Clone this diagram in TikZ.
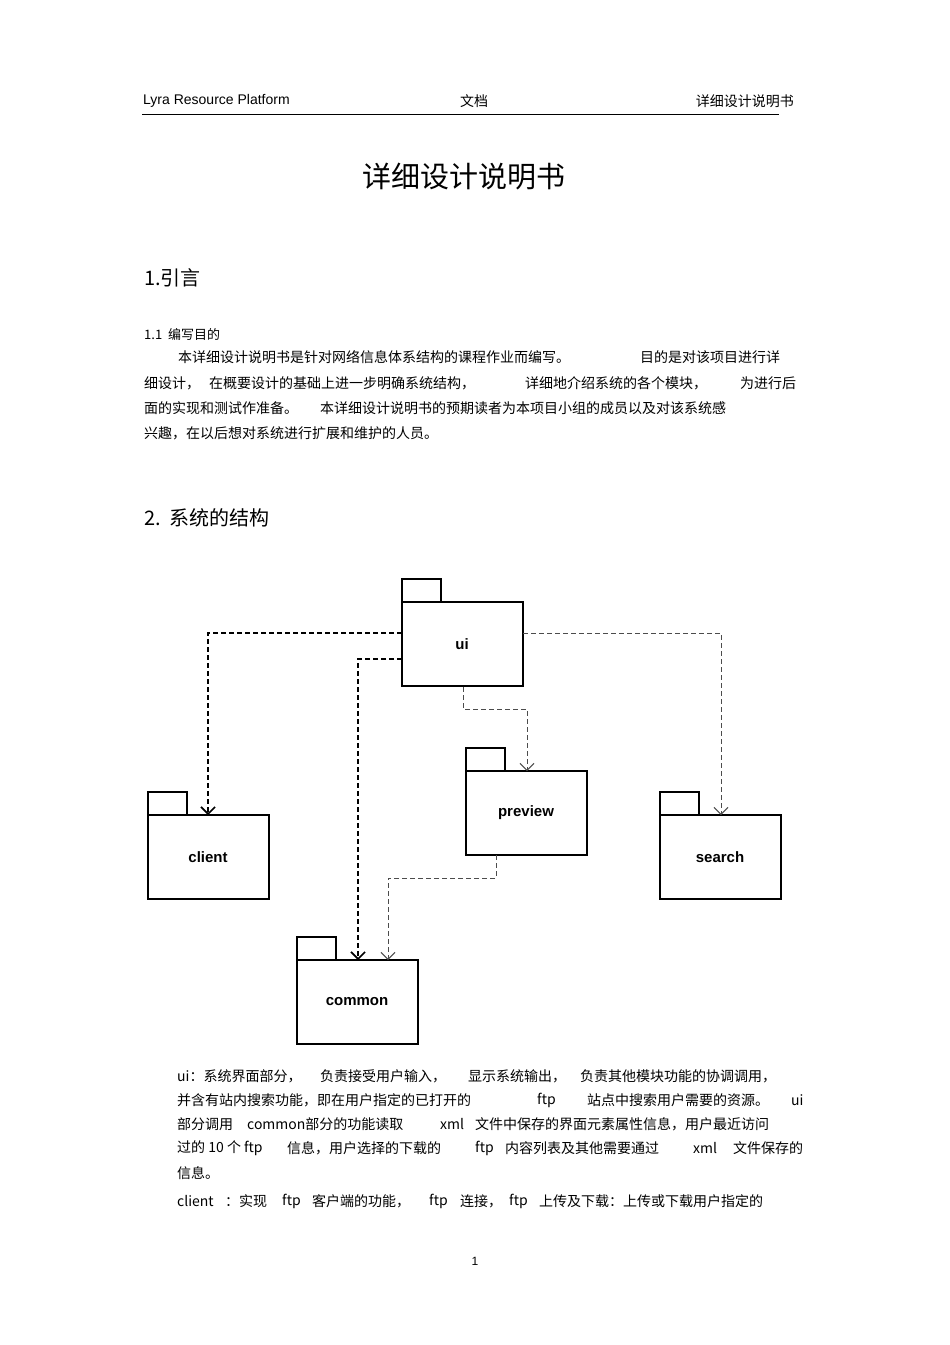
\documentclass[tikz,border=0pt]{standalone}
\usepackage{fontspec}
\setmainfont{Liberation Sans}
\newfontfamily\cjk{Noto Sans CJK SC}
\usetikzlibrary{arrows.meta}
\tikzset{
 t/.style={anchor=west,inner sep=0,font=\cjk\fontsize{14}{14}\selectfont},
 lt/.style={anchor=west,inner sep=0,font=\fontsize{14}{14}\selectfont},
 box/.style={draw,line width=1.3pt},
 pk/.style={font=\bfseries\fontsize{15}{15}\selectfont},
 dep/.style={draw=black!70,dashed,dash pattern=on 5pt off 3pt,line width=1pt,-{Straight Barb[length=7pt,width=14pt]}},
 depb/.style={dep,draw=black,line width=1.6pt}
}
\newcommand{\pkg}[5]{% name, x, y (top of body), label, tabwidth
 \draw[box] (#2,#3) rectangle ++(121,84);
 \draw[box] (#2,#3) rectangle ++(39,-23);
 \node[pk] (#1) at (#2+60,#3+42) {#4};
 \coordinate (#1t) at (#2,#3);
}
\begin{document}
\begin{tikzpicture}[x=1pt,y=-1pt]
\useasboundingbox[fill=white] (0,0) rectangle (950,1345);
% header
\node[lt] (h1) at (143,101) {Lyra Resource Platform};
\node[t,anchor=center] (h2) at (474,101) {文档};
\node[t,anchor=east] (h3) at (794,101) {详细设计说明书};
\draw[line width=0.8pt] (142,114) -- (779,114);
\node[inner sep=0,font=\cjk\fontsize{29}{29}\selectfont] (title) at (464,177) {详细设计说明书};
\node[anchor=west,inner sep=0,font=\cjk\fontsize{20}{20}\selectfont] (s1) at (144,278) {1.引言};
\node[t,font=\cjk\fontsize{13}{13}\selectfont] (s11) at (144,334) {1.1\ \ 编写目的};
\node[t] (p1a) at (178,357) {本详细设计说明书是针对网络信息体系结构的课程作业而编写。};
\node[t] (p1b) at (640,357) {目的是对该项目进行详};
\node[t] (p2a) at (144,383) {细设计，};
\node[t] (p2b) at (209,383) {在概要设计的基础上进一步明确系统结构，};
\node[t] (p2c) at (525,383) {详细地介绍系统的各个模块，};
\node[t] (p2d) at (740,383) {为进行后};
\node[t] (p3a) at (144,408) {面的实现和测试作准备。};
\node[t] (p3b) at (320,408) {本详细设计说明书的预期读者为本项目小组的成员以及对该系统感};
\node[t] (p4a) at (144,433) {兴趣，在以后想对系统进行扩展和维护的人员。};
\node[anchor=west,inner sep=0,font=\cjk\fontsize{20}{20}\selectfont] (s2) at (144,518) {2.\ \ 系统的结构};
% packages
\pkg{ui}{402}{602}{ui}{}
\pkg{client}{148}{815}{client}{}
\pkg{preview}{466}{771}{preview}{}
\pkg{search}{660}{815}{search}{}
\pkg{common}{297}{960}{common}{}
% dependencies
\coordinate (cT) at (208,815);
\coordinate (sT) at (721,815);
\coordinate (pT) at (527,771);
\coordinate (mT1) at (358,960);
\coordinate (mT2) at (388,960);
\draw[depb] (402,633) -| (cT);
\draw[depb] (402,659) -| (mT1);
\draw[dep] (523,633) -| (sT);
\draw[dep] (463,687) -- (463,709) -| (pT);
\draw[dep] (496,855) -- (496,878) -| (mT2);
% text below
\node[t] (b1a) at (177,1076) {ui：系统界面部分，};
\node[t] (b1b) at (320,1076) {负责接受用户输入，};
\node[t] (b1c) at (468,1076) {显示系统输出，};
\node[t] (b1d) at (580,1076) {负责其他模块功能的协调调用，};
\node[t] (b2a) at (177,1100) {并含有站内搜索功能，即在用户指定的已打开的};
\node[t] (b2b) at (537,1100) {ftp};
\node[t] (b2c) at (587,1100) {站点中搜索用户需要的资源。};
\node[t] (b2d) at (791,1100) {ui};
\node[t] (b3a) at (177,1124) {部分调用};
\node[t] (b3b) at (247,1124) {common部分的功能读取};
\node[t] (b3c) at (440,1124) {xml};
\node[t] (b3d) at (475,1124) {文件中保存的界面元素属性信息，用户最近访问};
\node[t] (b4a) at (177,1148) {过的 10 个 ftp};
\node[t] (b4b) at (287,1148) {信息，用户选择的下载的};
\node[t] (b4c) at (475,1148) {ftp};
\node[t] (b4d) at (505,1148) {内容列表及其他需要通过};
\node[t] (b4e) at (693,1148) {xml};
\node[t] (b4f) at (733,1148) {文件保存的};
\node[t] (b5a) at (177,1173) {信息。};
\node[t] (b6a) at (177,1201) {client};
\node[t] (b6b) at (225,1201) {：实现};
\node[t] (b6c) at (282,1201) {ftp};
\node[t] (b6d) at (312,1201) {客户端的功能，};
\node[t] (b6e) at (429,1201) {ftp};
\node[t] (b6f) at (460,1201) {连接，};
\node[t] (b6g) at (509,1201) {ftp};
\node[t] (b6h) at (539,1201) {上传及下载：上传或下载用户指定的};
\node[lt,anchor=center,font=\fontsize{12}{12}\selectfont] (pg) at (475,1261) {1};
\end{tikzpicture}
\end{document}
